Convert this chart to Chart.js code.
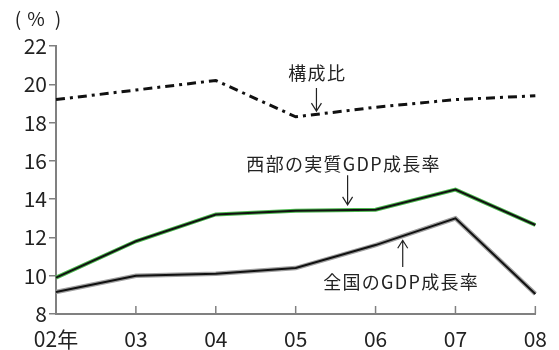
<!DOCTYPE html>
<html>
<head>
<meta charset="utf-8">
<script src="https://cdn.jsdelivr.net/npm/chart.js@4.4.0/dist/chart.umd.min.js"></script>
<style>
  html, body { margin: 0; padding: 0; background: #fff; }
  #wrap { width: 559px; height: 350px; position: relative; }
</style>
</head>
<body>
<div id="wrap"><canvas id="lineChart" width="559" height="350"></canvas></div>
<script>
// chart data
var years = ["02年", "03", "04", "05", "06", "07", "08"];
var shareRatio = [19.2, 19.7, 20.2, 18.3, 18.8, 19.2, 19.4];
var westGrowth = [9.9, 11.8, 13.2, 13.4, 13.45, 14.5, 12.65];
var nationGrowth = [9.15, 10.0, 10.1, 10.4, 11.6, 13.0, 9.05];
var yTicks = [8, 10, 12, 14, 16, 18, 20, 22];

var FONT = "'Noto Sans CJK JP', 'Noto Sans', sans-serif";
var AXIS = "#808080";

// labels + arrows, placed with the chart scales
var notes = [
  { text: "構成比", x: 3.27, y: 20.6, ax: 3.26, from: 19.8, to: 18.6 },
  { text: "西部の実質GDP成長率", x: 3.6, y: 15.85, ax: 3.65, from: 15.25, to: 13.7 },
  { text: "全国のGDP成長率", x: 4.32, y: 9.65, ax: 4.34, from: 10.45, to: 11.85 }
];

var extras = {
  id: "extras",
  afterDatasetsDraw: function (chart) {
    var c = chart.ctx, xs = chart.scales.x, ys = chart.scales.y;
    c.save();
    // x tick marks pointing up
    c.strokeStyle = AXIS;
    c.lineWidth = 1.5;
    for (var i = 1; i < years.length; i++) {
      var px = xs.getPixelForValue(i);
      c.beginPath();
      c.moveTo(px, ys.bottom);
      c.lineTo(px, ys.bottom - 8);
      c.stroke();
    }
    // unit label
    c.fillStyle = "#222";
    c.font = "19px " + FONT;
    c.textAlign = "center";
    c.textBaseline = "middle";
    c.fillText("(", 18, 19);
    c.fillText("%", 36, 19);
    c.fillText(")", 58, 19);
    // notes
    notes.forEach(function (n) {
      c.font = "18px " + FONT;
      c.letterSpacing = "1.3px";
      c.textAlign = "center";
      c.fillStyle = "#222";
      c.fillText(n.text, xs.getPixelForValue(n.x), ys.getPixelForValue(n.y));
      var ax = xs.getPixelForValue(n.ax);
      var y1 = ys.getPixelForValue(n.from), y2 = ys.getPixelForValue(n.to);
      var dir = y2 > y1 ? 1 : -1;
      c.strokeStyle = "#222";
      c.lineWidth = 1.2;
      c.beginPath();
      c.moveTo(ax, y1);
      c.lineTo(ax, y2);
      c.moveTo(ax - 5, y2 - dir * 8);
      c.lineTo(ax, y2);
      c.lineTo(ax + 5, y2 - dir * 8);
      c.stroke();
    });
    c.restore();
  }
};

var ctx = document.getElementById("lineChart");
var lineChart = new Chart(ctx, {
  type: "line",
  data: {
    labels: years,
    datasets: [
      { data: shareRatio, order: 0, borderColor: "#111", borderWidth: 3, borderDash: [9, 5, 3, 5], pointRadius: 0, tension: 0 },
      { data: westGrowth, order: 2, borderColor: "#4cb84e", borderWidth: 4, pointRadius: 0, tension: 0 },
      { data: westGrowth, order: 1, borderColor: "#111", borderWidth: 2, pointRadius: 0, tension: 0 },
      { data: nationGrowth, order: 2, borderColor: "#a0a0a0", borderWidth: 4.5, pointRadius: 0, tension: 0 },
      { data: nationGrowth, order: 1, borderColor: "#111", borderWidth: 2, pointRadius: 0, tension: 0 }
    ]
  },
  options: {
    responsive: false,
    animation: false,
    layout: { padding: { top: 46, right: 22, left: 0, bottom: 0 } },
    plugins: { legend: { display: false }, tooltip: { enabled: false } },
    scales: {
      x: {
        offset: false,
        afterFit: function (scale) { scale.height = 36; },
        grid: { display: false, drawTicks: false },
        border: { color: AXIS, width: 2 },
        ticks: { color: "#222", font: { family: FONT, size: 21 }, padding: 12, maxRotation: 0, autoSkip: false }
      },
      y: {
        min: 8,
        max: 22,
        afterBuildTicks: function (scale) {
          scale.ticks = yTicks.map(function (v) { return { value: v }; });
        },
        afterFit: function (scale) { scale.width = 56; },
        grid: { drawOnChartArea: false, drawTicks: true, tickLength: 7, color: AXIS, lineWidth: 1.5 },
        border: { color: AXIS, width: 2 },
        ticks: { color: "#222", font: { family: FONT, size: 21 }, padding: 2 }
      }
    }
  },
  plugins: [extras]
});
</script>
</body>
</html>
